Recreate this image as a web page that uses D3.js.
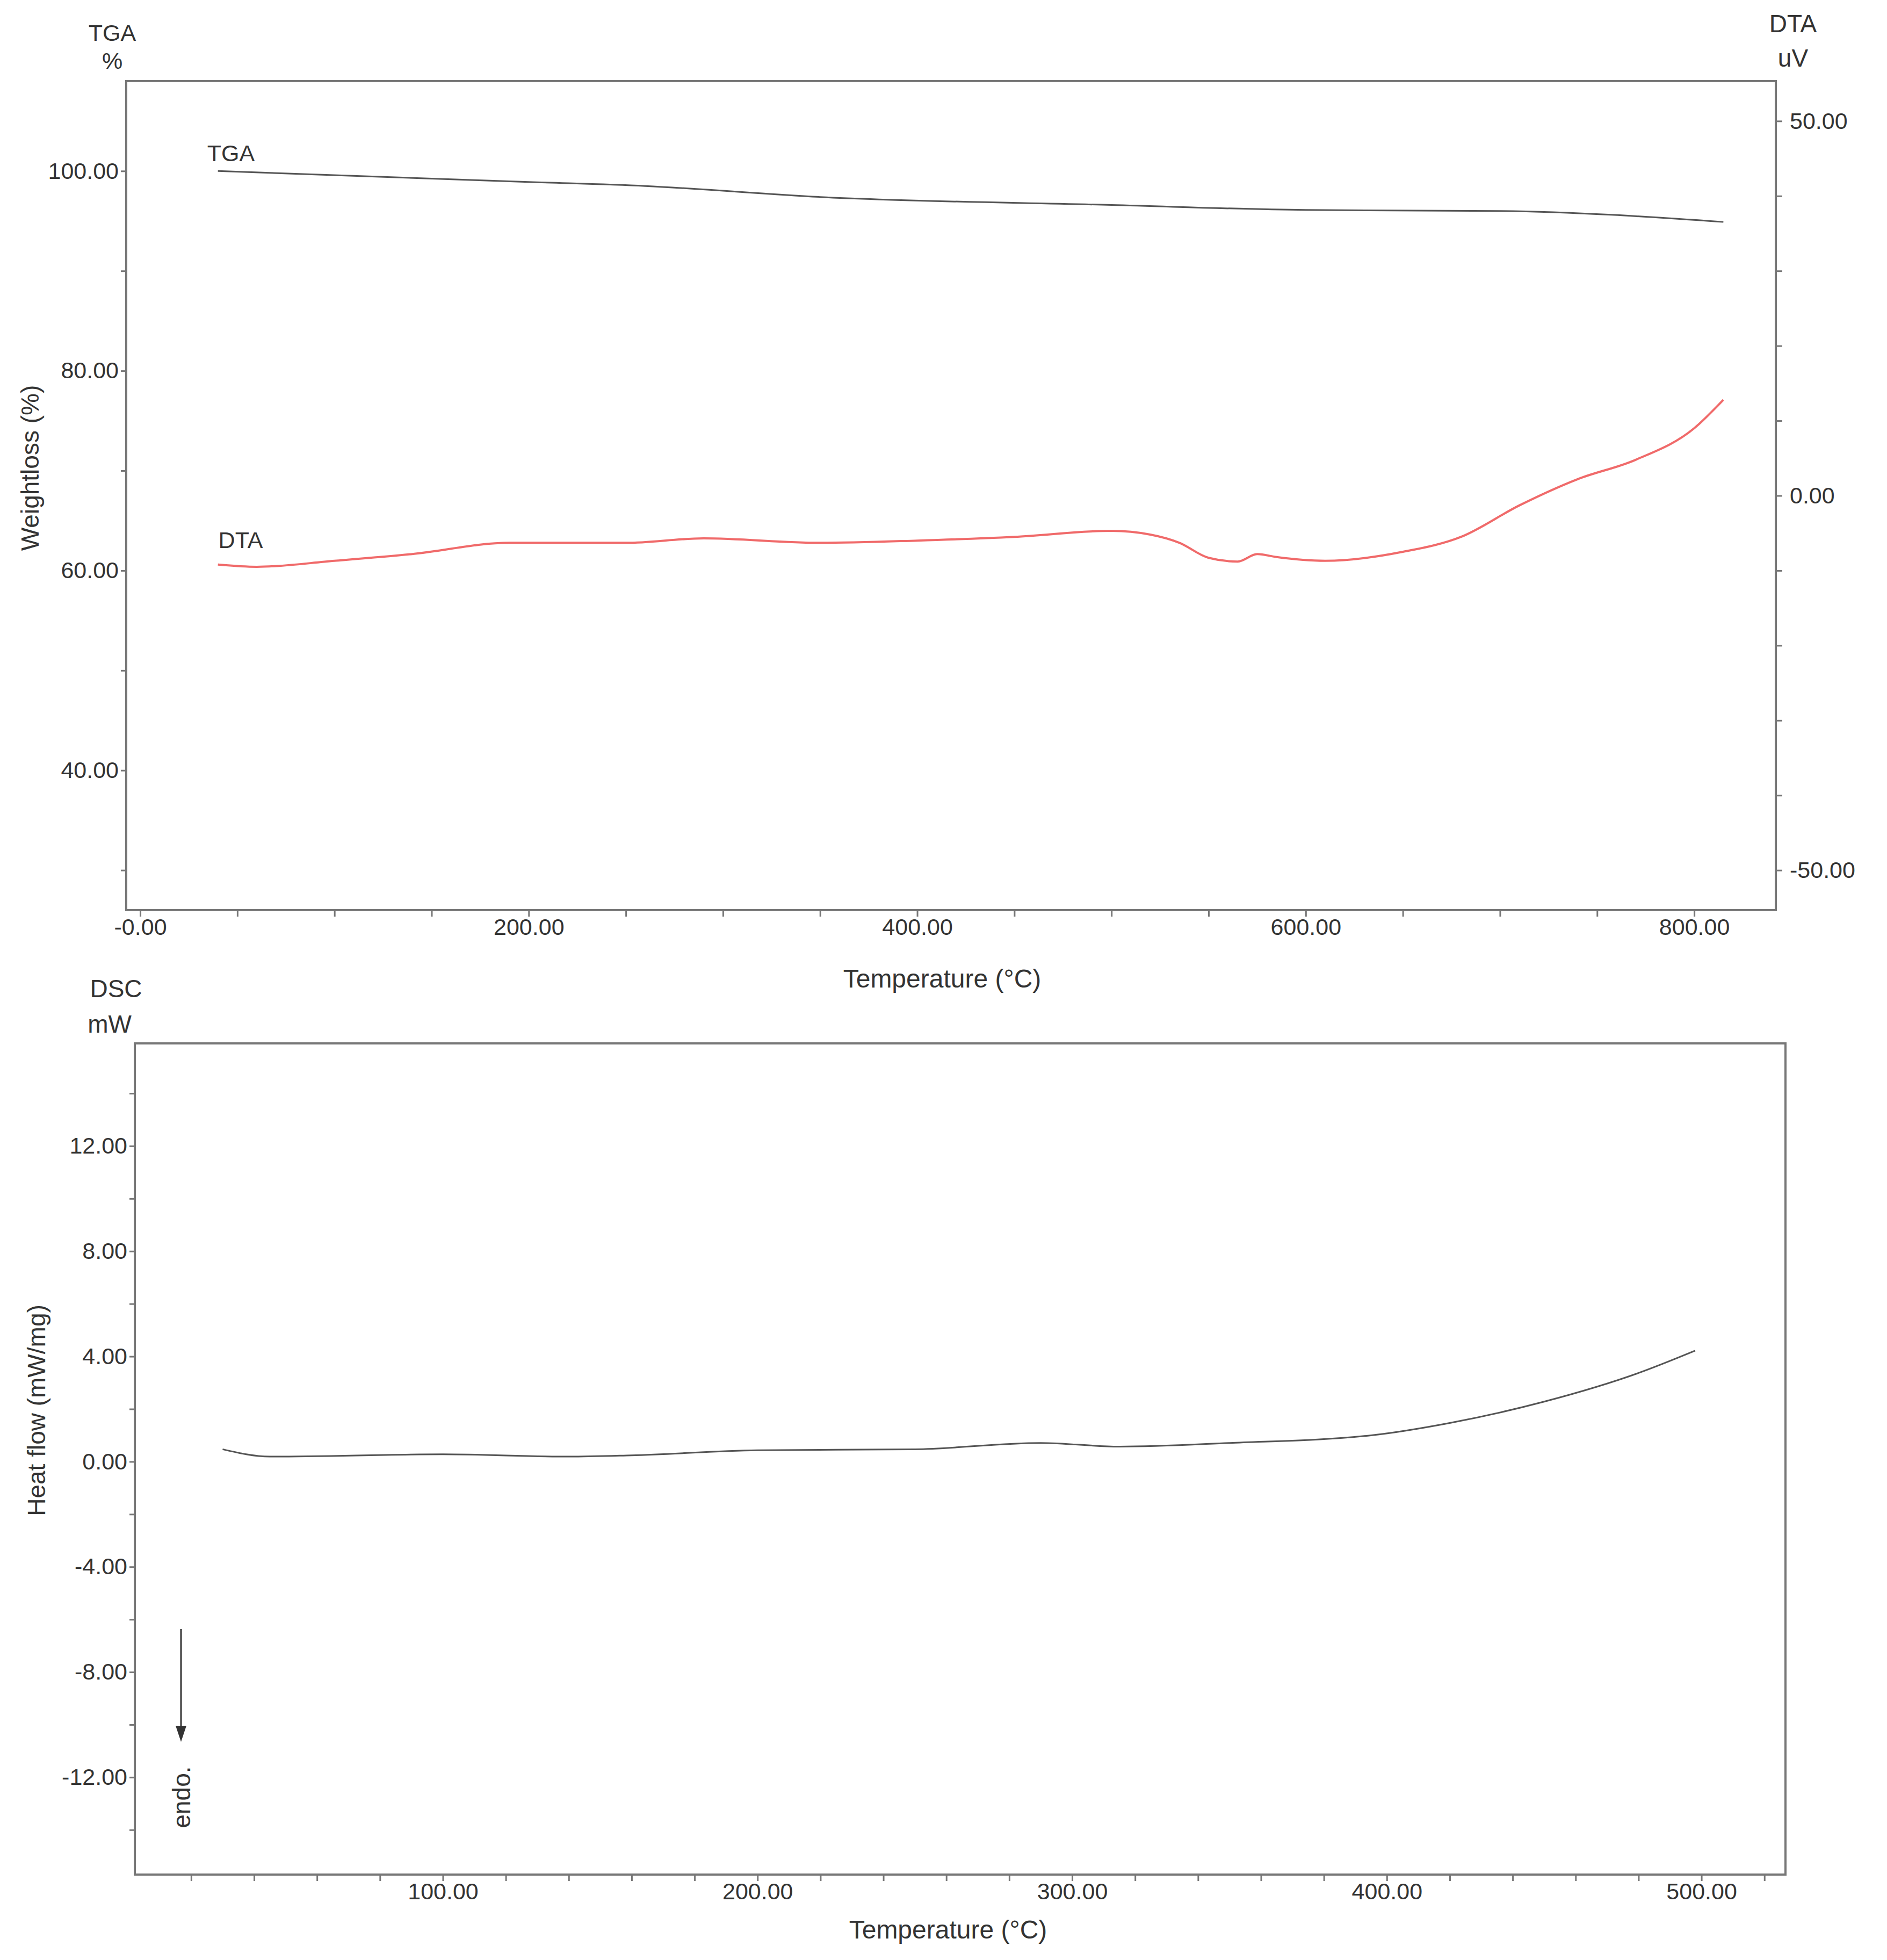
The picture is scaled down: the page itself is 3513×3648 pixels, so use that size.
<!DOCTYPE html>
<html><head><meta charset="utf-8">
<script src="https://cdn.jsdelivr.net/npm/d3@7"></script>
<style>body{margin:0;background:#fff}text{font-family:"Liberation Sans",Arial,sans-serif;fill:#333}</style>
</head><body>
<script>
// TGA weight (%) vs temperature
const tgaT = [40, 200, 260, 350, 500, 600, 700, 815];
const tgaV = [100, 98.9, 98.5, 97.4, 96.6, 96.1, 96.0, 94.9];
// DTA (uV) vs temperature
const dtaT = [40, 60, 100, 140, 190, 250, 290, 350, 400, 450, 500, 520, 535, 550, 565, 575, 585, 610, 650, 680, 710, 740, 770, 800, 815];
const dtaV = [-9.2, -9.5, -8.7, -7.8, -6.3, -6.3, -5.7, -6.3, -6.0, -5.5, -4.7, -5.2, -6.3, -8.3, -8.8, -7.8, -8.2, -8.7, -7.5, -5.5, -1.3, 2.2, 4.8, 9.0, 12.8];
// DSC heat flow (mW/mg)
const dscT = [30, 45, 100, 140, 160, 200, 250, 290, 315, 350, 395, 420, 450, 480, 498];
const dscV = [0.47, 0.19, 0.28, 0.19, 0.24, 0.43, 0.47, 0.71, 0.57, 0.71, 1.0, 1.47, 2.28, 3.37, 4.22];

const tgaTicks = [40, 60, 80, 100];
const dtaTicks = [-50, 0, 50];
const topXTicks = [0, 200, 400, 600, 800];
const dscTicks = [-12, -8, -4, 0, 4, 8, 12];
const botXTicks = [100, 200, 300, 400, 500];

const W = 3513, H = 3648, fs = 43;
const svg = d3.select("body").append("svg").attr("width", W).attr("height", H);
const fmt = d => d3.format(".2f")(d).replace("\u2212", "-");
const fmtX = d => d === 0 ? "-0.00" : fmt(d);

function styleAxis(g){
  g.selectAll("path,line").attr("stroke", "#777").attr("stroke-width", 3);
  g.selectAll("text").style("font-size", fs + "px").attr("fill", "#333");
}

// ---- top panel
const t = {l: 235, r: 3306, t: 151, b: 1694};
const x1 = d3.scaleLinear().domain([-7.2, 842]).range([t.l, t.r]);
const yL = d3.scaleLinear().domain([26, 109]).range([t.b, t.t]);
const yR = d3.scaleLinear().domain([-55.33, 55.33]).range([t.b, t.t]);

svg.append("rect").attr("x", t.l).attr("y", t.t).attr("width", t.r - t.l).attr("height", t.b - t.t)
  .attr("fill", "none").attr("stroke", "#777").attr("stroke-width", 4);

svg.append("g").attr("transform", `translate(0,${t.b})`)
  .call(d3.axisBottom(x1).tickValues(d3.range(0, 801, 50)).tickSize(12).tickFormat(d => topXTicks.includes(d) ? fmtX(d) : ""))
  .call(styleAxis).call(g => g.select(".domain").remove());
svg.append("g").attr("transform", `translate(${t.l},0)`)
  .call(d3.axisLeft(yL).tickValues(d3.range(30, 109, 10)).tickSize(10).tickPadding(4).tickFormat(d => tgaTicks.includes(d) ? fmt(d) : ""))
  .call(styleAxis).call(g => g.select(".domain").remove());
svg.append("g").attr("transform", `translate(${t.r},0)`)
  .call(d3.axisRight(yR).tickValues(d3.range(-50, 51, 10)).tickSize(12).tickPadding(14).tickFormat(d => dtaTicks.includes(d) ? fmt(d) : ""))
  .call(styleAxis).call(g => g.select(".domain").remove());

const tgaLine = d3.line().x((d, i) => x1(tgaT[i])).y(d => yL(d)).curve(d3.curveMonotoneX);
svg.append("path").attr("d", tgaLine(tgaV)).attr("fill", "none").attr("stroke", "#555").attr("stroke-width", 3);
const dtaLine = d3.line().x((d, i) => x1(dtaT[i])).y(d => yR(d)).curve(d3.curveMonotoneX);
svg.append("path").attr("d", dtaLine(dtaV)).attr("fill", "none").attr("stroke", "#f06a6a").attr("stroke-width", 4);

svg.append("text").attr("x", 430).attr("y", 300).attr("text-anchor", "middle").style("font-size", fs + "px").text("TGA");
svg.append("text").attr("x", 448).attr("y", 1020).attr("text-anchor", "middle").style("font-size", fs + "px").text("DTA");
svg.append("text").attr("x", 209).attr("y", 76).attr("text-anchor", "middle").style("font-size", fs + "px").text("TGA");
svg.append("text").attr("x", 209).attr("y", 128).attr("text-anchor", "middle").style("font-size", fs + "px").text("%");
svg.append("text").attr("x", 3338).attr("y", 60).attr("text-anchor", "middle").style("font-size", "46px").text("DTA");
svg.append("text").attr("x", 3338).attr("y", 124).attr("text-anchor", "middle").style("font-size", "46px").text("uV");
svg.append("text").attr("transform", "translate(72,871) rotate(-90)").attr("text-anchor", "middle").style("font-size", "46px").text("Weightloss (%)");
svg.append("text").attr("x", 1754).attr("y", 1838).attr("text-anchor", "middle").style("font-size", "48px").text("Temperature (°C)");

// ---- bottom panel
const b = {l: 251, r: 3324, t: 1942, b: 3489};
const x2 = d3.scaleLinear().domain([2.1, 526.7]).range([b.l, b.r]);
const y2 = d3.scaleLinear().domain([-15.7, 15.9]).range([b.b, b.t]);

svg.append("rect").attr("x", b.l).attr("y", b.t).attr("width", b.r - b.l).attr("height", b.b - b.t)
  .attr("fill", "none").attr("stroke", "#777").attr("stroke-width", 4);
svg.append("g").attr("transform", `translate(0,${b.b})`)
  .call(d3.axisBottom(x2).tickValues(d3.range(20, 521, 20)).tickSize(12).tickFormat(d => botXTicks.includes(d) ? fmt(d) : ""))
  .call(styleAxis).call(g => g.select(".domain").remove());
svg.append("g").attr("transform", `translate(${b.l},0)`)
  .call(d3.axisLeft(y2).tickValues(d3.range(-14, 15, 2)).tickSize(10).tickPadding(4).tickFormat(d => dscTicks.includes(d) ? fmt(d) : ""))
  .call(styleAxis).call(g => g.select(".domain").remove());

const dscLine = d3.line().x((d, i) => x2(dscT[i])).y(d => y2(d)).curve(d3.curveMonotoneX);
svg.append("path").attr("d", dscLine(dscV)).attr("fill", "none").attr("stroke", "#555").attr("stroke-width", 3);

svg.append("text").attr("x", 216).attr("y", 1856).attr("text-anchor", "middle").style("font-size", "46px").text("DSC");
svg.append("text").attr("x", 204).attr("y", 1922).attr("text-anchor", "middle").style("font-size", "46px").text("mW");
svg.append("text").attr("transform", "translate(84,2625) rotate(-90)").attr("text-anchor", "middle").style("font-size", "46px").text("Heat flow (mW/mg)");
svg.append("text").attr("x", 1765).attr("y", 3608).attr("text-anchor", "middle").style("font-size", "48px").text("Temperature (°C)");

// endo arrow
svg.append("line").attr("x1", 337).attr("x2", 337).attr("y1", 3032).attr("y2", 3215)
  .attr("stroke", "#333").attr("stroke-width", 3);
svg.append("path").attr("d", "M327,3212L347,3212L337,3242Z").attr("fill", "#333");
svg.append("text").attr("transform", "translate(354,3345) rotate(-90)").attr("text-anchor", "middle").style("font-size", "46px").text("endo.");
</script>
</body></html>
